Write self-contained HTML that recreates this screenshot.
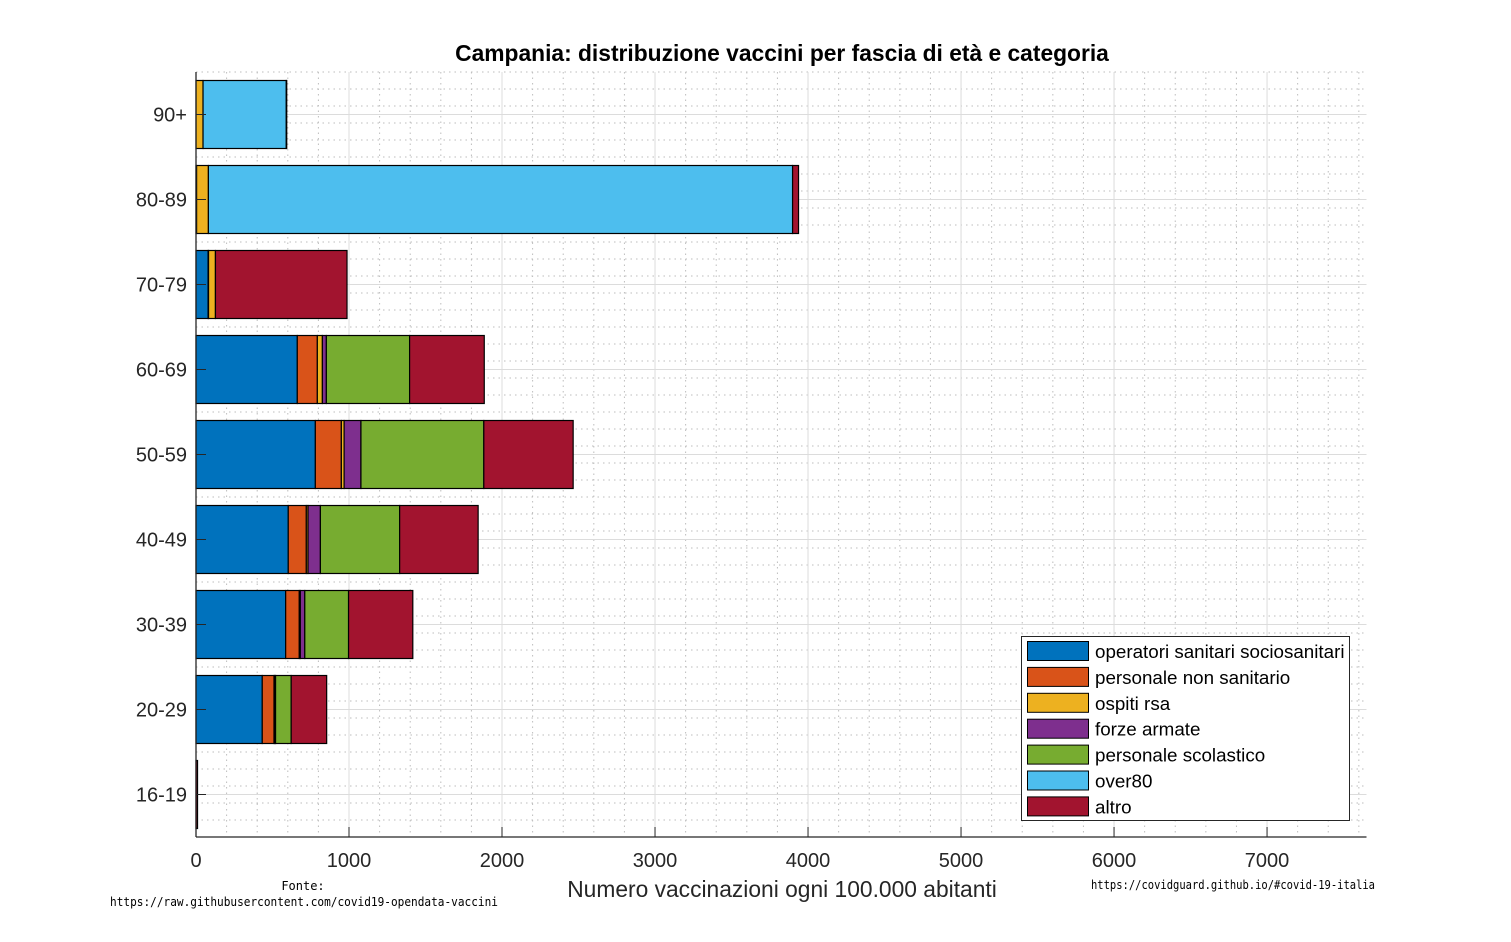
<!DOCTYPE html>
<html><head><meta charset="utf-8"><style>
body{margin:0;background:#fff;}
svg{display:block;font-family:"Liberation Sans",Arial,sans-serif;}
</style></head><body>
<svg id="chart" width="1511" height="942" viewBox="0 0 1511 942" xmlns="http://www.w3.org/2000/svg">
<rect width="1511" height="942" fill="#fff"/>
<g id="grid"></g>
<g id="bars"></g>
<g id="axes"></g>
<text x="782" y="61" text-anchor="middle" font-size="22.8" font-weight="bold" fill="#000">Campania: distribuzione vaccini per fascia di età e categoria</text>
<text x="782" y="897" text-anchor="middle" font-size="22.8" fill="#262626">Numero vaccinazioni ogni 100.000 abitanti</text>
<text x="303" y="890" text-anchor="middle" font-size="12" font-family="DejaVu Sans Mono,monospace" fill="#000">Fonte:</text>
<text x="110" y="906" textLength="388" lengthAdjust="spacingAndGlyphs" font-size="12" font-family="DejaVu Sans Mono,monospace" fill="#000">https://raw.githubusercontent.com/covid19-opendata-vaccini</text>
<text x="1091" y="889" textLength="284" lengthAdjust="spacingAndGlyphs" font-size="12" font-family="DejaVu Sans Mono,monospace" fill="#000">https://covidguard.github.io/#covid-19-italia</text>
<g id="legend"></g>
</svg>
<script>
const categories = ["90+","80-89","70-79","60-69","50-59","40-49","30-39","20-29","16-19"];
const seriesNames = ["operatori sanitari sociosanitari","personale non sanitario","ospiti rsa","forze armate","personale scolastico","over80","altro"];
const seriesColors = ["#0072BD","#D95319","#EDB120","#7E2F8E","#77AC30","#4DBEEE","#A2142F"];
const operatori = [0,4,79,662,780,603,586,433,0];
const nonSanitario = [0,0,3,131,170,118,89,77,0];
const ospitiRsa = [46,77,45,33,18,11,7,5,0];
const forzeArmate = [0,0,0,26,110,81,29,5,0];
const scolastico = [0,0,0,544,803,518,286,102,0];
const over80 = [544,3818,0,0,0,0,0,0,0];
const altro = [3,39,860,488,584,513,420,232,10];
const xTicks = [0,1000,2000,3000,4000,5000,6000,7000];
const series = [operatori,nonSanitario,ospitiRsa,forzeArmate,scolastico,over80,altro];

const NS="http://www.w3.org/2000/svg";
const X0=196, X1=1366.5, XMAX=7650, Y0=72, Y1=837;
const xs=v=>X0+v/XMAX*(X1-X0);
const band=(Y1-Y0)/9;
function mk(tag,attrs,parent){const e=document.createElementNS(NS,tag);for(const k in attrs)e.setAttribute(k,attrs[k]);parent.appendChild(e);return e;}
const grid=document.getElementById('grid'), bars=document.getElementById('bars'), axes=document.getElementById('axes'), legend=document.getElementById('legend');

for(let v=200;v<=XMAX;v+=200){ if(v%1000===0) continue;
  const l=mk('line',{x1:xs(v),x2:xs(v),y1:Y0,y2:Y1,stroke:'#bdbdbd','stroke-dasharray':'1.5 4','stroke-width':1},grid);
   
}
for(let k=0;k<=45;k++){
  const yy=Y0+k*band/5; const f=(yy-Y0)/band; if(Math.abs(f-Math.floor(f)-0.5)<0.01) continue;
  const l=mk('line',{x1:X0,x2:X1,y1:yy,y2:yy,stroke:'#bdbdbd','stroke-dasharray':'1.5 4','stroke-width':1},grid);
   
}
xTicks.forEach(v=>{ if(v===0) return;
  const l=mk('line',{x1:xs(v),x2:xs(v),y1:Y0,y2:Y1,stroke:'#dcdcdc','stroke-width':1},grid);
   
});
categories.forEach((c,i)=>{ const y=Y0+(i+0.5)*band;
  const l=mk('line',{x1:X0,x2:X1,y1:y,y2:y,stroke:'#dcdcdc','stroke-width':1},grid);
   
});
categories.forEach((c,i)=>{ let acc=0; const yc=Y0+(i+0.5)*band, h=band*0.8;
  series.forEach((s,j)=>{ const v=s[i]; if(v<=0) return;
    const r=mk('rect',{x:xs(acc),y:yc-h/2,width:xs(acc+v)-xs(acc),height:h,fill:seriesColors[j],stroke:'#000','stroke-width':1.2},bars);
     
    acc+=v;
  });
});
let a=mk('line',{x1:X0,x2:X0,y1:Y0,y2:Y1,stroke:'#262626','stroke-width':1.3},axes);
 
a=mk('line',{x1:X0,x2:X1,y1:Y1,y2:Y1,stroke:'#262626','stroke-width':1.3},axes);
 
xTicks.forEach(v=>{
  const t=mk('line',{x1:xs(v),x2:xs(v),y1:Y1,y2:Y1-10,stroke:'#262626','stroke-width':1},axes);
   
  const tx=mk('text',{x:xs(v),y:Y1+30,'text-anchor':'middle','font-size':20,fill:'#262626'},axes);
  tx.textContent=v;
   
});
categories.forEach((c,i)=>{ const y=Y0+(i+0.5)*band;
  const t=mk('line',{x1:X0,x2:X0+10,y1:y,y2:y,stroke:'#262626','stroke-width':1},axes);
   
  const tx=mk('text',{x:187,y:y+7,'text-anchor':'end','font-size':20,fill:'#262626'},axes);
  tx.textContent=c;
   
});
const lb=mk('rect',{x:1021.5,y:636.5,width:328,height:184,fill:'#fff',stroke:'#262626','stroke-width':1},legend);
 
seriesNames.forEach((n,j)=>{ const y=651+j*25.9;
  const sw=mk('rect',{x:1027.5,y:y-9.5,width:61,height:19,fill:seriesColors[j],stroke:'#000','stroke-width':1},legend);
   
  const tx=mk('text',{x:1095,y:y+7,'font-size':18.8,fill:'#000'},legend);
  tx.textContent=n;
   
});
</script>
</body></html>
